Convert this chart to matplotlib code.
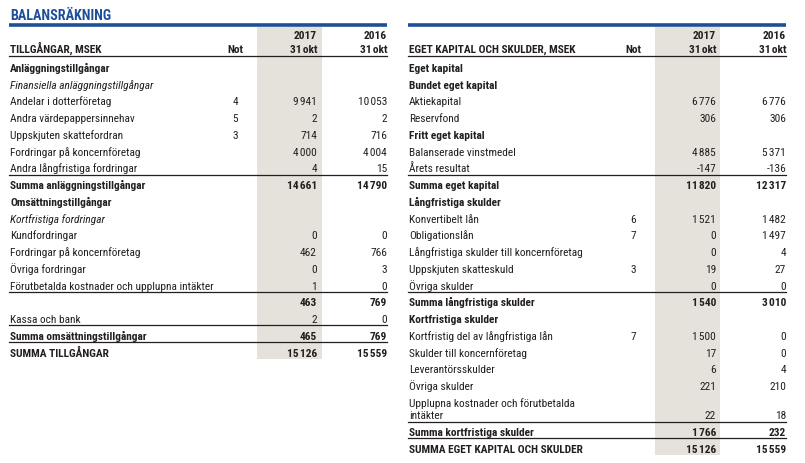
import matplotlib
matplotlib.use("Agg")
import matplotlib.pyplot as plt
from matplotlib.patches import Rectangle

plt.rcParams["font.family"] = ["Roboto Condensed", "DejaVu Sans"]

# ---------------- data ----------------
left_header = "TILLGÅNGAR, MSEK"
left_labels = [
    "Anläggningstillgångar", "Finansiella anläggningstillgångar",
    "Andelar i dotterföretag", "Andra värdepappersinnehav",
    "Uppskjuten skattefordran", "Fordringar på koncernföretag",
    "Andra långfristiga fordringar", "Summa anläggningstillgångar",
    "Omsättningstillgångar", "Kortfristiga fordringar", "Kundfordringar",
    "Fordringar på koncernföretag", "Övriga fordringar",
    "Förutbetalda kostnader och upplupna intäkter", "",
    "Kassa och bank", "Summa omsättningstillgångar", "SUMMA TILLGÅNGAR",
]
left_notes = ["", "", "4", "5", "3", "", "", "", "", "", "", "", "", "", "", "", "", ""]
left_2017 = [None, None, 9941, 2, 714, 4000, 4, 14661, None, None, 0, 462, 0, 1, 463, 2, 465, 15126]
left_2016 = [None, None, 10053, 2, 716, 4004, 15, 14790, None, None, 0, 766, 3, 0, 769, 0, 769, 15559]
left_kinds = ["head", "ital", "item", "item", "item", "item", "item", "sum",
              "head", "ital", "item", "item", "item", "item", "sum", "item", "sum", "sum"]
left_rules = [6, 13, 15, 16]

right_header = "EGET KAPITAL OCH SKULDER, MSEK"
right_labels = [
    "Eget kapital", "Bundet eget kapital", "Aktiekapital", "Reservfond",
    "Fritt eget kapital", "Balanserade vinstmedel", "Årets resultat",
    "Summa eget kapital", "Långfristiga skulder", "Konvertibelt lån",
    "Obligationslån", "Långfristiga skulder till koncernföretag",
    "Uppskjuten skatteskuld", "Övriga skulder", "Summa långfristiga skulder",
    "Kortfristiga skulder", "Kortfristig del av långfristiga lån",
    "Skulder till koncernföretag", "Leverantörsskulder", "Övriga skulder",
    "Upplupna kostnader och förutbetalda\nintäkter",
    "Summa kortfristiga skulder", "SUMMA EGET KAPITAL OCH SKULDER",
]
right_notes = ["", "", "", "", "", "", "", "", "", "6", "7", "", "3", "", "", "", "7", "", "", "", "", "", ""]
right_2017 = [None, None, 6776, 306, None, 4885, -147, 11820, None, 1521, 0, 0, 19, 0, 1540,
              None, 1500, 17, 6, 221, 22, 1766, 15126]
right_2016 = [None, None, 6776, 306, None, 5371, -136, 12317, None, 1482, 1497, 4, 27, 0, 3010,
              None, 0, 0, 4, 210, 18, 232, 15559]
right_kinds = ["head", "head", "item", "item", "head", "item", "item", "sum",
               "head", "item", "item", "item", "item", "item", "sum",
               "head", "item", "item", "item", "item", "item", "sum", "sum"]
right_rules = [6, 13, 20, 21]

TXT = "#231f20"
BAND = "#e5e1db"
BLUE = "#1d4f99"
FS = 8.2
PITCH = 16.76
EXTRA = 12.5
BASE = 3.8  # baseline offset below row centre


def fmt(v):
    if v is None:
        return ""
    return f"{v:,}".replace(",", "\u200a")


def put(ax, x, y, s, ha="left", weight="normal", style="normal"):
    ax.text(x, y + BASE, s, fontsize=FS, fontweight=weight, fontstyle=style,
            color=TXT, va="baseline", ha=ha, linespacing=1.32)


def draw_table(ax, x0, x1, note_x, band_x, c17, c16, header, labels, notes, v17, v16, kinds, rules):
    vys = []
    y = 68
    for lab in labels:
        n = lab.count("\n")
        vys.append(y + n * EXTRA)
        y = y + n * EXTRA + PITCH
    band_bottom = vys[-1] + 7
    ax.add_patch(Rectangle((band_x[0], 28), band_x[1] - band_x[0], band_bottom - 28,
                           color=BAND, lw=0, zorder=0))
    ax.plot([x0, x1], [25.5, 25.5], color=BLUE, lw=2.6, solid_capstyle="butt")
    ax.plot([x0, x1], [57, 57], color=TXT, lw=0.9)

    put(ax, x0 + 1, 49, header, weight="bold")
    put(ax, note_x + 8, 49, "Not", ha="right", weight="bold")
    for cx, yr in [(c17, "2017"), (c16, "2016")]:
        put(ax, cx, 35, yr, ha="right", weight="bold")
        put(ax, cx, 49, "31\u200aokt", ha="right", weight="bold")

    for i, lab in enumerate(labels):
        k = kinds[i]
        weight = "bold" if k in ("head", "sum") else "normal"
        style = "italic" if k == "ital" else "normal"
        put(ax, x0 + 1, vys[i], lab, weight=weight, style=style)
        put(ax, note_x, vys[i], notes[i], ha="center")
        put(ax, c17, vys[i], fmt(v17[i]), ha="right", weight=weight)
        put(ax, c16, vys[i], fmt(v16[i]), ha="right", weight=weight)
    for r in rules:
        ax.plot([x0, x1], [vys[r] + 7, vys[r] + 7], color=TXT, lw=0.9)


fig = plt.figure(figsize=(8.05, 4.64), dpi=100)
ax = fig.add_axes([0, 0, 1, 1])
ax.set_xlim(0, 805)
ax.set_ylim(464, 0)
ax.axis("off")

ax.text(10, 19.5, "BALANSRÄKNING", fontsize=10.2, fontweight="bold", color=BLUE, va="baseline")

draw_table(ax, 9, 387, 235, (257, 322), 317, 387, left_header,
           left_labels, left_notes, left_2017, left_2016, left_kinds, left_rules)
draw_table(ax, 408, 786, 633, (655, 720), 716, 786, right_header,
           right_labels, right_notes, right_2017, right_2016, right_kinds, right_rules)

fig.savefig("out.png", dpi=100, facecolor="white")
